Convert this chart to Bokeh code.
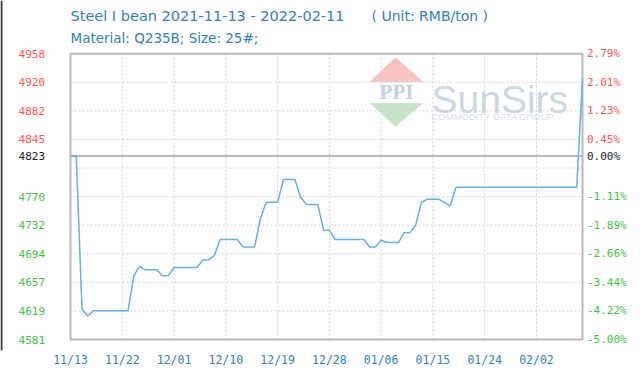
from bokeh.plotting import figure
from bokeh.models import Range1d, FixedTicker, PolyAnnotation, ColumnDataSource
from bokeh.core.properties import value, field
from bokeh.embed import file_html
from bokeh.resources import INLINE

# ---- data -------------------------------------------------------------
title_main = "Steel I bean 2021-11-13 - 2022-02-11"
title_unit = "( Unit: RMB/ton )"
subtitle = "Material: Q235B; Size: 25#;"

# day offsets from 2021-11-13 and prices (RMB/ton)
days = [0, 1, 2, 3, 4, 10, 11, 12, 13, 15, 16, 17, 18, 22, 23, 24, 25, 26,
        29, 30, 32, 33, 34, 36, 37, 39, 40, 41, 43, 44, 45, 46, 51, 52, 53,
        54, 55, 57, 58, 59, 60, 61, 62, 64, 65, 66, 67, 88, 89]
prices = [4823, 4823, 4621, 4612, 4619, 4619, 4665, 4678, 4673, 4673, 4665,
          4665, 4676, 4676, 4686, 4686, 4692, 4713, 4713, 4703, 4703, 4740,
          4762, 4762, 4792, 4792, 4769, 4759, 4759, 4725, 4725, 4713, 4713,
          4703, 4703, 4712, 4709, 4709, 4722, 4722, 4732, 4762, 4766, 4766,
          4762, 4757, 4782, 4782, 4925]

x_tick_days = [0, 9, 18, 27, 36, 45, 54, 63, 72, 81]
x_tick_labels = ["11/13", "11/22", "12/01", "12/10", "12/19", "12/28",
                 "01/06", "01/15", "01/24", "02/02"]

base_price = 4823
y_ticks = [4581, 4618.7, 4656.4, 4694.1, 4731.8, 4769.5, 4807.2, 4844.9,
           4882.6, 4920.3, 4958]
y_left_labels = ["4581", "4619", "4657", "4694", "4732", "4770", "",
                 "4845", "4882", "4920", "4958"]
y_right_labels = ["-5.00%", "-4.22%", "-3.44%", "-2.66%", "-1.89%",
                  "-1.11%", "", "0.45%", "1.23%", "2.01%", "2.79%"]

# ---- layout / style constants (pixels) -------------------------------
W, H, AXIS_H = 640, 369, 17
PL, PR, PT, PB = 70, 582, 53.5, 341          # plot box in canvas pixels
RED, GREEN, BLACK = "#ff5252", "#3ec23e", "#222222"
BLUE_TXT = "#2f80b6"
LINE = "#62b0e4"
GRID = "#d0d0d0"
MONO = "DejaVu Sans Mono"
SANS = "DejaVu Sans"

x_lo, x_hi = 0, 89
y_lo, y_hi = y_ticks[0], y_ticks[-1]
kx = (PR - PL) / (x_hi - x_lo)
ky = (PB - PT) / (y_hi - y_lo)
FRAME_B = H - AXIS_H


def px_x(px):
    return x_lo + (px - PL) / kx


def px_y(py):
    return y_hi - (py - PT) / ky


p = figure(width=W, height=H, output_backend="svg", toolbar_location=None,
           x_range=Range1d(px_x(0), px_x(W)),
           y_range=Range1d(px_y(FRAME_B), px_y(0)),
           min_border_left=0, min_border_right=0, min_border_top=0,
           min_border_bottom=AXIS_H, background_fill_color="white",
           border_fill_color="white")
p.outline_line_color = None
p.grid.visible = False
p.yaxis.visible = False

xa = p.xaxis[0]
xa.ticker = FixedTicker(ticks=x_tick_days)
xa.major_label_overrides = {d: t for d, t in zip(x_tick_days, x_tick_labels)}
xa.axis_line_color = None
xa.major_tick_line_color = None
xa.minor_tick_line_color = None
xa.major_tick_in = 0
xa.major_tick_out = 0
xa.major_label_standoff = 2
xa.major_label_text_font = MONO
xa.major_label_text_font_size = "11.5px"
xa.major_label_text_color = BLUE_TXT

# watermark (decoration)
p.add_layout(PolyAnnotation(xs=[px_x(369), px_x(395), px_x(423)],
                            ys=[px_y(82), px_y(57), px_y(82)],
                            fill_color="#f6c2c2", fill_alpha=1, line_color=None,
                            level="underlay"))
p.add_layout(PolyAnnotation(xs=[px_x(369), px_x(423), px_x(395)],
                            ys=[px_y(103), px_y(103), px_y(127)],
                            fill_color="#c6e4c6", fill_alpha=1, line_color=None,
                            level="underlay"))
p.text(x=[px_x(396)], y=[px_y(92)], text=["PPI"], text_align="center",
       text_baseline="middle", text_font=value("Liberation Serif"),
       text_font_size="21px", text_font_style="bold", text_color="#c3cfe2")
p.text(x=[px_x(431)], y=[px_y(100)], text=["SunSirs"], text_align="left",
       text_baseline="alphabetic", text_font=value("Liberation Sans"),
       text_font_size="39px", text_color="#cad6e2")
p.text(x=[px_x(431)], y=[px_y(117)], text=["COMMODITY DATA GROUP"],
       text_align="left", text_baseline="alphabetic",
       text_font=value("Liberation Sans"), text_font_size="9.5px",
       text_color="#d8dde5")

# grid lines (dotted), inside the plot box only
gx = x_tick_days[1:]
p.segment(x0=gx, x1=gx, y0=[y_lo] * len(gx), y1=[y_hi] * len(gx),
          line_color=GRID, line_dash="2 2", line_width=1)
gy = y_ticks[1:-1]
p.segment(x0=[x_lo] * len(gy), x1=[x_hi] * len(gy), y0=gy, y1=gy,
          line_color=GRID, line_dash="2 2", line_width=1)

# base price line
p.segment(x0=[x_lo], x1=[x_hi], y0=[base_price], y1=[base_price],
          line_color="#a0a0a0", line_width=1.6)

# plot box
p.quad(left=[x_lo], right=[x_hi], bottom=[y_lo], top=[y_hi],
       fill_color=None, line_color="#b8b8b8", line_width=2)

# screenshot edge
p.segment(x0=[px_x(1)], x1=[px_x(1)], y0=[px_y(FRAME_B)], y1=[px_y(0)],
          line_color="#3a3a3a", line_width=2)

# price line
p.line(days, prices, line_color=LINE, line_width=1.5)

# y labels, coloured relative to the base price
ys = y_ticks + [base_price]
left_txt = y_left_labels + [str(base_price)]
right_txt = y_right_labels + ["0.00%"]
cols = [RED if v > base_price else (GREEN if v < base_price else BLACK) for v in ys]
src = ColumnDataSource(dict(y=ys, lt=left_txt, rt=right_txt, c=cols,
                            xl=[px_x(44.5)] * len(ys), xr=[px_x(586.5)] * len(ys)))
p.text(x="xl", y="y", text="lt", source=src, text_align="right",
       text_baseline="middle", text_font=value(MONO), text_font_size="11px",
       text_color=field("c"))
p.text(x="xr", y="y", text="rt", source=src, text_align="left",
       text_baseline="middle", text_font=value(MONO), text_font_size="11px",
       text_color=field("c"))

# titles
p.text(x=[px_x(70)], y=[px_y(16)], text=[title_main], text_baseline="middle",
       text_font=value(SANS), text_font_size="14.5px", text_color=BLUE_TXT)
p.text(x=[px_x(371)], y=[px_y(16)], text=[title_unit], text_baseline="middle",
       text_font=value(SANS), text_font_size="14px", text_color=BLUE_TXT)
p.text(x=[px_x(70)], y=[px_y(38)], text=[subtitle], text_baseline="middle",
       text_font=value(SANS), text_font_size="13.5px", text_color=BLUE_TXT)

open("out.html", "w").write(file_html(p, INLINE))
